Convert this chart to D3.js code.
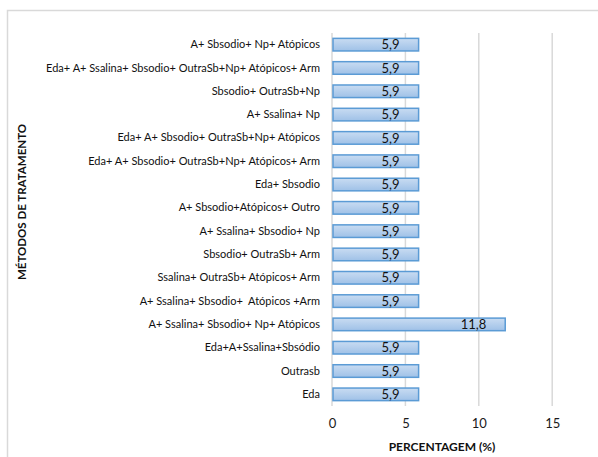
<!DOCTYPE html>
<html>
<head>
<meta charset="utf-8">
<script src="https://cdn.jsdelivr.net/npm/d3@7"></script>
<style>
  html, body { margin: 0; padding: 0; background: #fff; }
  svg { display: block; font-family: Lato, "Open Sans", sans-serif; }
  svg text { white-space: pre; }
</style>
</head>
<body>
<svg id="chart" width="598" height="457"></svg>
<script>
// Treatment combinations, listed top to bottom
const categories = [
  "A+ Sbsodio+ Np+ Atópicos",
  "Eda+ A+ Ssalina+ Sbsodio+ OutraSb+Np+ Atópicos+ Arm",
  "Sbsodio+ OutraSb+Np",
  "A+ Ssalina+ Np",
  "Eda+ A+ Sbsodio+ OutraSb+Np+ Atópicos",
  "Eda+ A+ Sbsodio+ OutraSb+Np+ Atópicos+ Arm",
  "Eda+ Sbsodio",
  "A+ Sbsodio+Atópicos+ Outro",
  "A+ Ssalina+ Sbsodio+ Np",
  "Sbsodio+ OutraSb+ Arm",
  "Ssalina+ OutraSb+ Atópicos+ Arm",
  "A+ Ssalina+ Sbsodio+  Atópicos +Arm",
  "A+ Ssalina+ Sbsodio+ Np+ Atópicos",
  "Eda+A+Ssalina+Sbsódio",
  "Outrasb",
  "Eda"
];
const values = [5.9, 5.9, 5.9, 5.9, 5.9, 5.9, 5.9, 5.9, 5.9, 5.9, 5.9, 5.9, 11.8, 5.9, 5.9, 5.9];
const xTicks = [0, 5, 10, 15];

const svg = d3.select("#chart");
const fmt = v => String(v).replace(".", ",");

// outer frame
svg.append("path")
  .attr("d", "M7.5,460 V10.5 H600")
  .attr("fill", "none").attr("stroke", "#d9d9d9").attr("stroke-width", 1.5);

const plot = { left: 332, top: 33, bottom: 406 };
const x = d3.scaleLinear().domain([0, 15]).range([plot.left, plot.left + 15 * 14.68]);
const y = d3.scaleBand().domain(categories).range([plot.top, plot.bottom]).paddingInner(0.46).paddingOuter(0.23);

const defs = svg.append("defs");
const grad = defs.append("linearGradient").attr("id", "barFill")
  .attr("x1", 0).attr("y1", 0).attr("x2", 0).attr("y2", 1);
grad.append("stop").attr("offset", "0%").attr("stop-color", "#c9dcf2");
grad.append("stop").attr("offset", "100%").attr("stop-color", "#9fc1e7");

// vertical gridlines
svg.append("g").selectAll("line").data(xTicks).join("line")
  .attr("x1", d => x(d)).attr("x2", d => x(d))
  .attr("y1", plot.top).attr("y2", plot.bottom)
  .attr("stroke", "#d9d9d9").attr("stroke-width", 1.5);

// x axis tick labels
const xAxis = d3.axisBottom(x).tickValues(xTicks).tickSize(0).tickPadding(0).tickFormat(d3.format("d"));
svg.append("g").attr("transform", `translate(0,${plot.bottom + 13})`).call(xAxis)
  .call(g => g.select(".domain").remove())
  .call(g => g.selectAll("text").attr("font-size", 13).attr("fill", "#1a1a1a").attr("font-family", "Lato, sans-serif"));

// y axis category labels
const yAxis = d3.axisLeft(y).tickSize(0).tickPadding(12);
svg.append("g").attr("transform", `translate(${plot.left},0)`).call(yAxis)
  .call(g => g.select(".domain").remove())
  .call(g => g.selectAll("text").attr("font-size", 11).attr("fill", "#111").attr("font-family", "Lato, sans-serif"));

// bars
svg.append("g").selectAll("rect").data(values).join("rect")
  .attr("x", x(0) + 1)
  .attr("y", (d, i) => y(categories[i]))
  .attr("width", d => x(d) - x(0) - 1)
  .attr("height", y.bandwidth())
  .attr("fill", "url(#barFill)")
  .attr("stroke", "#5b9bd5").attr("stroke-width", 1.5);

// value labels
svg.append("g").selectAll("text").data(values).join("text")
  .attr("x", d => x(d) - 19)
  .attr("y", (d, i) => y(categories[i]) + y.bandwidth() / 2)
  .attr("dy", "0.36em")
  .attr("text-anchor", "end")
  .attr("font-size", 13).attr("fill", "#111")
  .text(fmt);

// axis titles
svg.append("text")
  .attr("transform", "translate(26,202) rotate(-90)")
  .attr("text-anchor", "middle")
  .attr("font-size", 11.5).attr("font-weight", "bold").attr("fill", "#111")
  .text("MÉTODOS DE TRATAMENTO");

svg.append("text")
  .attr("x", 442).attr("y", 451)
  .attr("text-anchor", "middle")
  .attr("font-size", 12).attr("font-weight", "bold").attr("fill", "#111")
  .text("PERCENTAGEM (%)");
</script>
</body>
</html>
